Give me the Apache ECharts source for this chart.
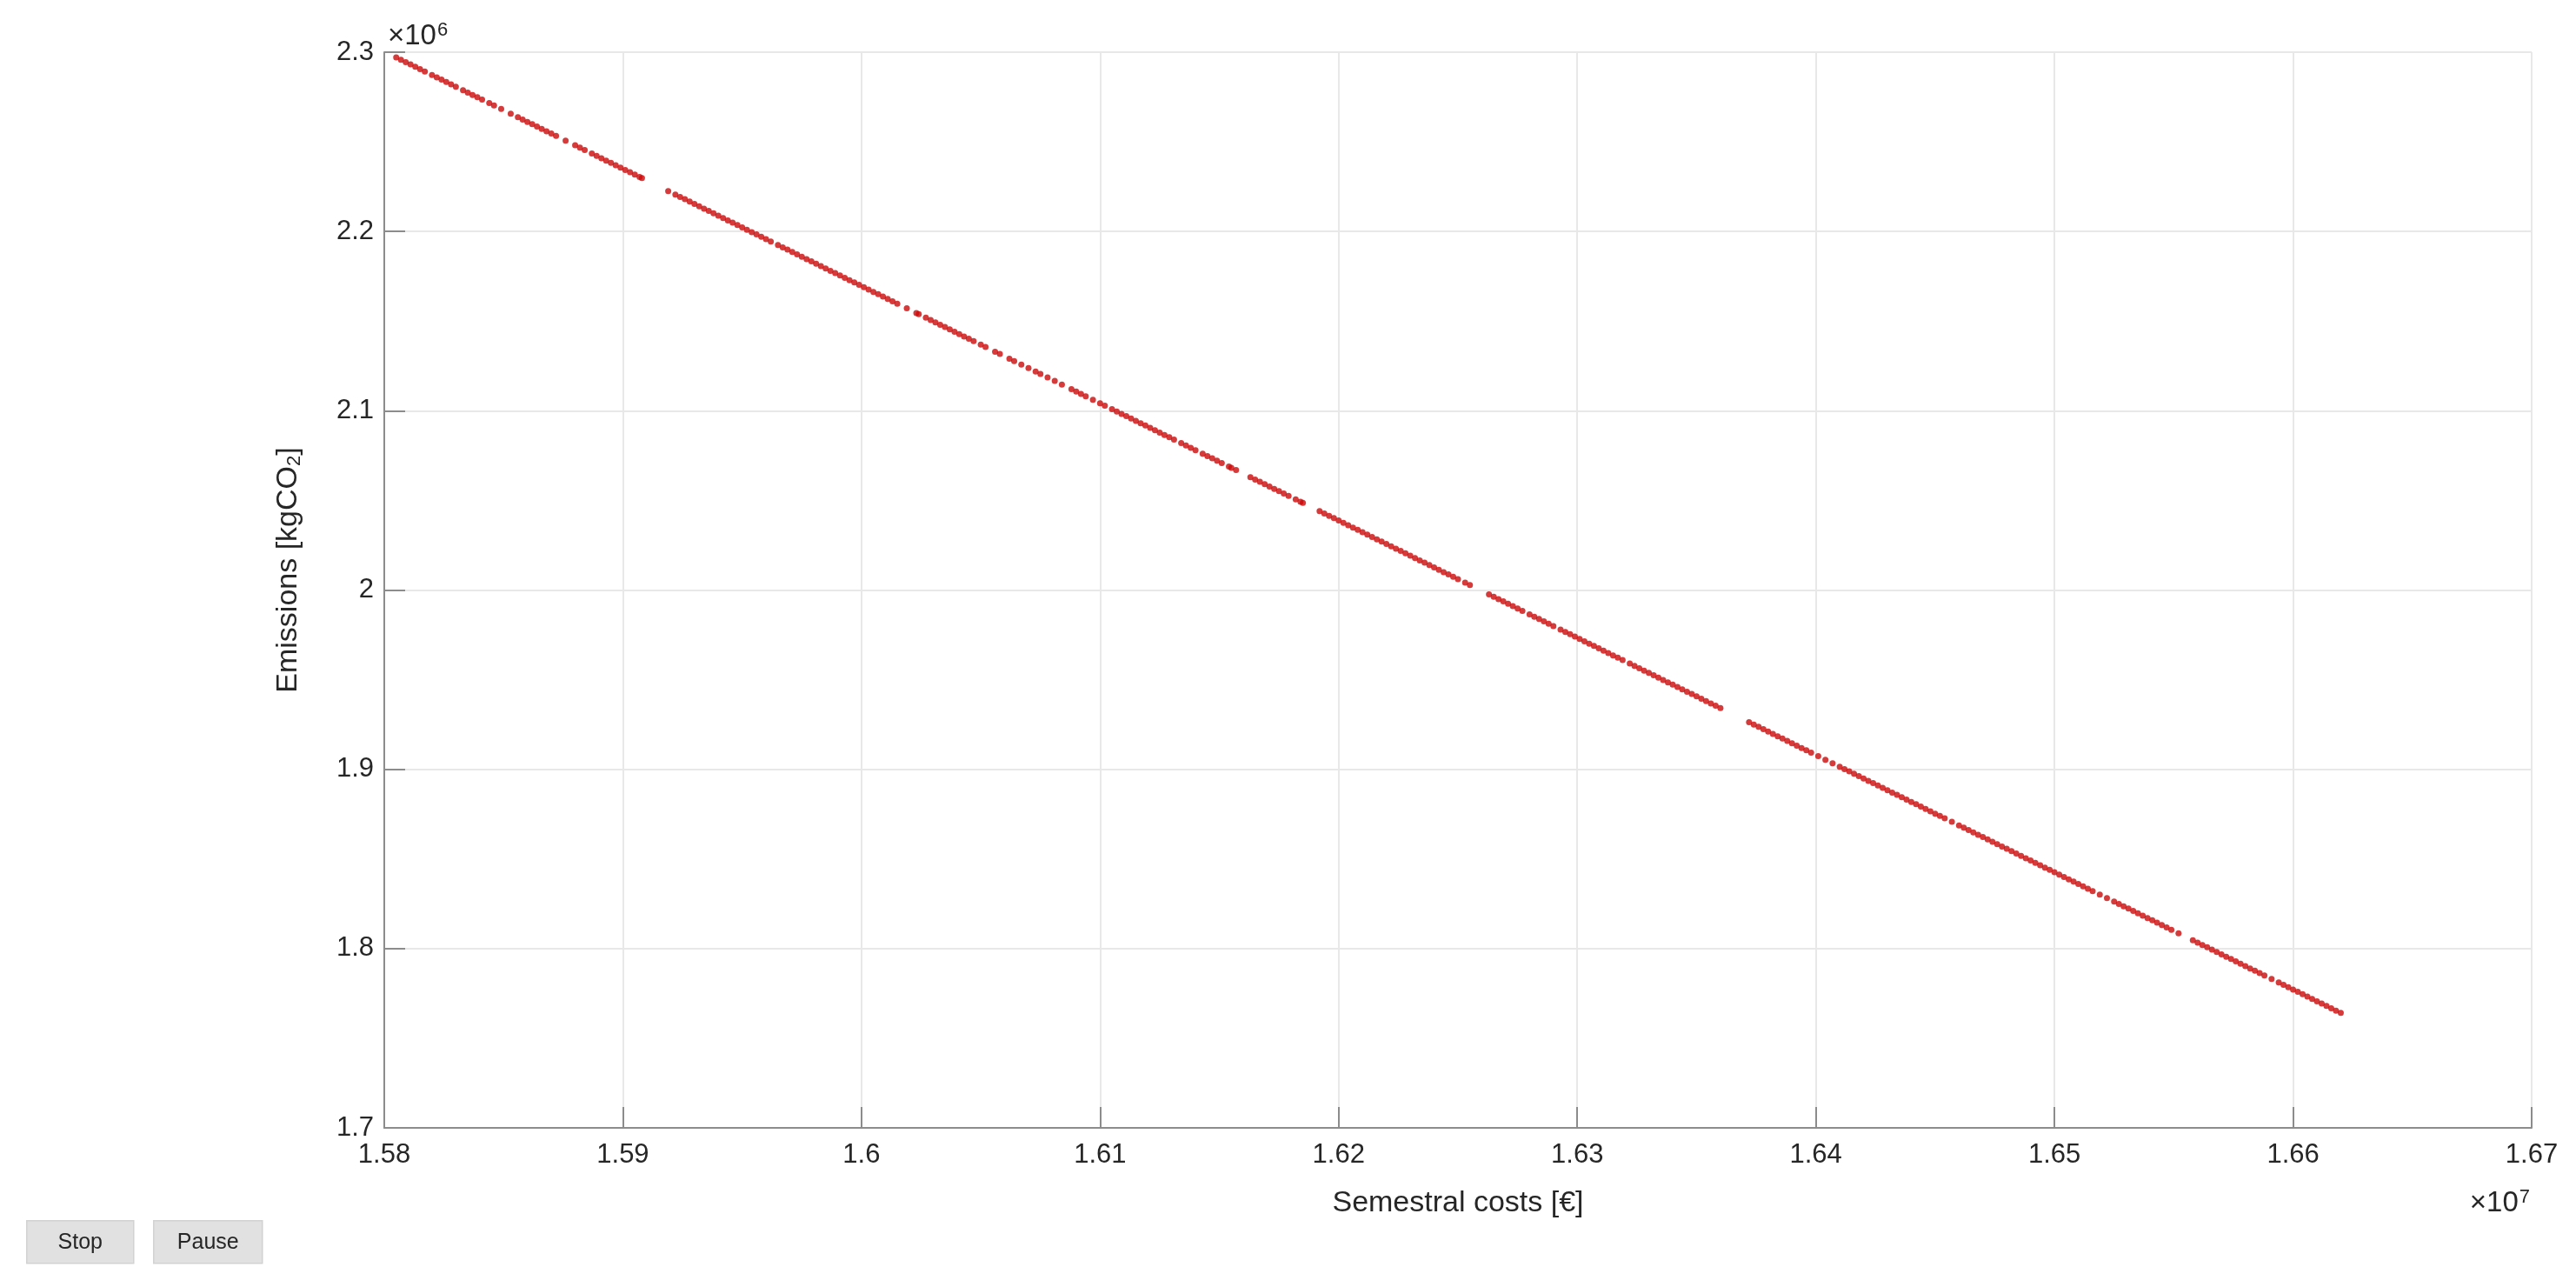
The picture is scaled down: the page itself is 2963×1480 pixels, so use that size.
<!DOCTYPE html>
<html>
<head>
<meta charset="utf-8">
<script src="https://cdn.jsdelivr.net/npm/echarts@6/dist/echarts.min.js"></script>
<style>
html,body{margin:0;padding:0;background:#fff;}
#chart{width:2963px;height:1480px;}
</style>
</head>
<body>
<div id="chart"></div>
<script>
// Semestral costs, in units of 10^7 €
const costs = [
1.5805,1.5807,1.5809,1.5811,1.5813,
1.5815,1.5817,1.5820,1.5822,1.5824,
1.5826,1.5828,1.5830,1.5833,
1.5835,1.5837,1.5839,1.5841,1.5844,
1.5846,1.5849,1.5853,
1.5856,1.5858,1.5860,1.5862,1.5864,
1.5866,1.5868,1.5870,1.5872,
1.5876,1.5880,1.5882,1.5884,
1.5887,1.5889,1.5891,1.5893,
1.5895,1.5897,1.5899,1.5901,1.5903,
1.5905,1.5907,1.5908,
1.5919,1.5922,1.5924,
1.5926,1.5928,1.5930,1.5932,1.5934,
1.5936,1.5938,1.5940,1.5942,1.5944,
1.5946,1.5948,1.5950,1.5952,1.5954,
1.5956,1.5958,1.5960,1.5962,
1.5965,1.5967,1.5969,1.5971,1.5973,
1.5975,1.5977,1.5979,1.5981,1.5983,
1.5985,1.5987,1.5989,1.5991,1.5993,
1.5995,1.5997,1.5999,1.6001,1.6003,
1.6005,1.6007,1.6009,1.6011,1.6013,
1.6015,1.6019,1.6023,1.6024,
1.6027,1.6029,1.6031,1.6033,
1.6035,1.6037,1.6039,1.6041,1.6043,
1.6045,1.6047,1.6050,1.6052,
1.6056,1.6058,1.6062,1.6064,
1.6067,1.6070,1.6073,
1.6075,1.6078,1.6081,1.6084,
1.6088,1.6090,1.6092,1.6094,
1.6097,1.6100,1.6102,
1.6105,1.6107,1.6109,1.6111,1.6113,
1.6115,1.6117,1.6119,1.6121,1.6123,
1.6125,1.6127,1.6129,1.6131,1.6134,
1.6136,1.6138,1.6140,1.6143,
1.6145,1.6147,1.6149,1.6151,1.6154,
1.6155,1.6157,1.6163,
1.6165,1.6167,1.6169,1.6171,1.6173,
1.6175,1.6177,1.6179,1.6182,1.6184,
1.6185,1.6192,1.6194,
1.6196,1.6198,1.6200,1.6202,1.6204,
1.6206,1.6208,1.6210,1.6212,1.6214,
1.6216,1.6218,1.6220,1.6222,1.6224,
1.6226,1.6228,1.6230,1.6232,1.6234,
1.6236,1.6238,1.6240,1.6242,1.6244,
1.6246,1.6248,1.6250,1.6253,
1.6255,1.6263,
1.6265,1.6267,1.6269,1.6271,1.6273,
1.6275,1.6277,1.6280,1.6282,1.6284,
1.6286,1.6288,1.6290,1.6293,
1.6295,1.6297,1.6299,1.6301,1.6303,
1.6305,1.6307,1.6309,1.6311,1.6313,
1.6315,1.6317,1.6319,1.6322,1.6324,
1.6326,1.6328,1.6330,1.6332,1.6334,
1.6336,1.6338,1.6340,1.6342,1.6344,
1.6346,1.6348,1.6350,1.6352,1.6354,
1.6356,1.6358,1.6360,
1.6372,1.6374,
1.6376,1.6378,1.6380,1.6382,1.6384,
1.6386,1.6388,1.6390,1.6392,1.6394,
1.6396,1.6398,1.6401,1.6404,
1.6407,1.6410,1.6412,1.6414,
1.6416,1.6418,1.6420,1.6422,1.6424,
1.6426,1.6428,1.6430,1.6432,1.6434,
1.6436,1.6438,1.6440,1.6442,1.6444,
1.6446,1.6448,1.6450,1.6452,1.6454,
1.6457,1.6460,1.6462,1.6464,
1.6466,1.6468,1.6470,1.6472,1.6474,
1.6476,1.6478,1.6480,1.6482,1.6484,
1.6486,1.6488,1.6490,1.6492,1.6494,
1.6496,1.6498,1.6500,1.6502,1.6504,
1.6506,1.6508,1.6510,1.6512,1.6514,
1.6516,1.6519,1.6522,
1.6525,1.6527,1.6529,1.6531,1.6533,
1.6535,1.6537,1.6539,1.6541,1.6543,
1.6545,1.6547,1.6549,1.6552,
1.6558,1.6560,1.6562,1.6564,
1.6566,1.6568,1.6570,1.6572,1.6574,
1.6576,1.6578,1.6580,1.6582,1.6584,
1.6586,1.6588,1.6591,1.6594,
1.6596,1.6598,1.6600,1.6602,1.6604,
1.6606,1.6608,1.6610,1.6612,1.6614,
1.6616,1.6618,1.6620
];

// Emissions, in units of 10^6 kgCO2
const emissions = [
2.29710,2.29579,2.29448,2.29318,2.29187,
2.29056,2.28925,2.28729,2.28598,2.28467,
2.28337,2.28206,2.28075,2.27879,
2.27748,2.27617,2.27486,2.27356,2.27159,
2.27029,2.26832,2.26571,
2.26375,2.26244,2.26113,2.25982,2.25851,
2.25721,2.25590,2.25459,2.25328,
2.25067,2.24805,2.24674,2.24543,
2.24347,2.24216,2.24086,2.23955,
2.23824,2.23693,2.23562,2.23432,2.23301,
2.23170,2.23039,2.22974,
2.22254,2.22058,2.21927,
2.21797,2.21666,2.21535,2.21404,2.21273,
2.21143,2.21012,2.20881,2.20750,2.20619,
2.20489,2.20358,2.20227,2.20096,2.19965,
2.19835,2.19704,2.19573,2.19442,
2.19246,2.19115,2.18984,2.18854,2.18723,
2.18592,2.18461,2.18330,2.18200,2.18069,
2.17938,2.17807,2.17676,2.17546,2.17415,
2.17284,2.17153,2.17022,2.16892,2.16761,
2.16630,2.16499,2.16368,2.16238,2.16107,
2.15976,2.15714,2.15453,2.15387,
2.15191,2.15060,2.14930,2.14799,
2.14668,2.14537,2.14406,2.14276,2.14145,
2.14014,2.13883,2.13687,2.13556,
2.13295,2.13164,2.12902,2.12771,
2.12575,2.12379,2.12183,
2.12052,2.11856,2.11660,2.11463,
2.11202,2.11071,2.10940,2.10809,
2.10613,2.10417,2.10286,
2.10090,2.09959,2.09828,2.09698,2.09567,
2.09436,2.09305,2.09174,2.09044,2.08913,
2.08782,2.08651,2.08520,2.08390,2.08193,
2.08063,2.07932,2.07801,2.07605,
2.07474,2.07343,2.07212,2.07082,2.06885,
2.06820,2.06689,2.06297,
2.06166,2.06035,2.05904,2.05774,2.05643,
2.05512,2.05381,2.05250,2.05054,2.04923,
2.04858,2.04400,2.04269,
2.04139,2.04008,2.03877,2.03746,2.03615,
2.03485,2.03354,2.03223,2.03092,2.02961,
2.02831,2.02700,2.02569,2.02438,2.02307,
2.02177,2.02046,2.01915,2.01784,2.01653,
2.01523,2.01392,2.01261,2.01130,2.00999,
2.00869,2.00738,2.00607,2.00411,
2.00280,1.99757,
1.99626,1.99495,1.99364,1.99234,1.99103,
1.98972,1.98841,1.98645,1.98514,1.98383,
1.98253,1.98122,1.97991,1.97795,
1.97664,1.97533,1.97402,1.97272,1.97141,
1.97010,1.96879,1.96748,1.96618,1.96487,
1.96356,1.96225,1.96094,1.95898,1.95767,
1.95637,1.95506,1.95375,1.95244,1.95113,
1.94983,1.94852,1.94721,1.94590,1.94459,
1.94329,1.94198,1.94067,1.93936,1.93805,
1.93675,1.93544,1.93413,
1.92628,1.92497,
1.92367,1.92236,1.92105,1.91974,1.91843,
1.91713,1.91582,1.91451,1.91320,1.91189,
1.91059,1.90928,1.90732,1.90535,
1.90339,1.90143,1.90012,1.89881,
1.89751,1.89620,1.89489,1.89358,1.89227,
1.89097,1.88966,1.88835,1.88704,1.88573,
1.88443,1.88312,1.88181,1.88050,1.87919,
1.87789,1.87658,1.87527,1.87396,1.87265,
1.87069,1.86873,1.86742,1.86611,
1.86481,1.86350,1.86219,1.86088,1.85957,
1.85827,1.85696,1.85565,1.85434,1.85303,
1.85173,1.85042,1.84911,1.84780,1.84649,
1.84519,1.84388,1.84257,1.84126,1.83995,
1.83865,1.83734,1.83603,1.83472,1.83341,
1.83211,1.83014,1.82818,
1.82622,1.82491,1.82360,1.82230,1.82099,
1.81968,1.81837,1.81706,1.81576,1.81445,
1.81314,1.81183,1.81052,1.80856,
1.80464,1.80333,1.80202,1.80071,
1.79941,1.79810,1.79679,1.79548,1.79417,
1.79287,1.79156,1.79025,1.78894,1.78763,
1.78633,1.78502,1.78306,1.78109,
1.77979,1.77848,1.77717,1.77586,1.77455,
1.77325,1.77194,1.77063,1.76932,1.76801,
1.76671,1.76540,1.76409
];

// Axis ranges / tick steps (tick labels: 1.58 … 1.67 and 1.7 … 2.3)
const xRange = [1.58, 1.67];
const xStep = 0.01;
const yRange = [1.7, 2.3];
const yStep = 0.1;

const xTitle = 'Semestral costs [€]';
const yTitle = 'Emissions [kgCO{sub|2}]';
const xExponent = '×10{sup|7}';
const yExponent = '×10{sup|6}';
const buttonLabels = ['Stop', 'Pause'];

const FONT = '"Liberation Sans", Arial, Helvetica, sans-serif';
const TXT = '#262626';
const AX = '#8c8c8c';
const GRID = '#e8e8e8';

const points = costs.map((c, i) => [c, emissions[i]]);
const fmt = v => String(parseFloat(v.toFixed(4)));

const chart = echarts.init(document.getElementById('chart'), null, {renderer: 'canvas'});

function button(label, x, w) {
  return {
    type: 'group', left: x, top: 1403,
    children: [
      {type: 'rect', shape: {x: 0, y: 0, width: w, height: 49},
       style: {fill: '#e1e1e1', stroke: '#d2d2d2', lineWidth: 1.5}},
      {type: 'text', x: w / 2, y: 25,
       style: {text: label, fill: TXT, font: '25px ' + FONT, align: 'center', verticalAlign: 'middle'}}
    ]
  };
}

const supRich = {sup: {fontSize: 22, fill: TXT, fontFamily: FONT, verticalAlign: 'top', padding: [0, 0, 14, 1]}};

chart.setOption({
  animation: false,
  backgroundColor: '#ffffff',
  grid: {left: 442, right: 51, top: 60, bottom: 183, containLabel: false},
  xAxis: {
    type: 'value', min: xRange[0], max: xRange[1], interval: xStep,
    name: xTitle, nameLocation: 'middle', nameGap: 70,
    nameTextStyle: {fontSize: 34, color: TXT, fontFamily: FONT},
    axisLine: {show: true, onZero: false, lineStyle: {color: AX, width: 2}},
    axisTick: {show: true, inside: true, length: 24, lineStyle: {color: AX, width: 2}},
    axisLabel: {show: true, color: TXT, fontSize: 31, fontFamily: FONT, margin: 16,
      showMinLabel: true, showMaxLabel: true, formatter: fmt},
    splitLine: {show: true, lineStyle: {color: GRID, width: 2}}
  },
  yAxis: {
    type: 'value', min: yRange[0], max: yRange[1], interval: yStep,
    name: yTitle, nameLocation: 'middle', nameGap: 92,
    nameTextStyle: {fontSize: 34, color: TXT, fontFamily: FONT, padding: [0, 0, 0, 46],
      rich: {sub: {fontSize: 22, color: TXT, fontFamily: FONT, verticalAlign: 'bottom', padding: [14, 0, 0, 0]}}},
    axisLine: {show: true, onZero: false, lineStyle: {color: AX, width: 2}},
    axisTick: {show: true, inside: true, length: 24, lineStyle: {color: AX, width: 2}},
    axisLabel: {show: true, color: TXT, fontSize: 31, fontFamily: FONT, margin: 12,
      showMinLabel: true, showMaxLabel: true, formatter: fmt},
    splitLine: {show: true, lineStyle: {color: GRID, width: 2}}
  },
  graphic: [
    {type: 'text', left: 446, top: 24,
     style: {text: yExponent, fill: TXT, font: '33px ' + FONT, rich: supRich}},
    {type: 'text', right: 53, top: 1366,
     style: {text: xExponent, fill: TXT, font: '33px ' + FONT, rich: supRich}},
    button(buttonLabels[0], 30, 123),
    button(buttonLabels[1], 176, 125)
  ],
  series: [{
    type: 'scatter',
    data: points,
    symbol: 'circle',
    symbolSize: 7,
    itemStyle: {color: '#cc0a0a'},
    silent: true
  }]
});
</script>
</body>
</html>
